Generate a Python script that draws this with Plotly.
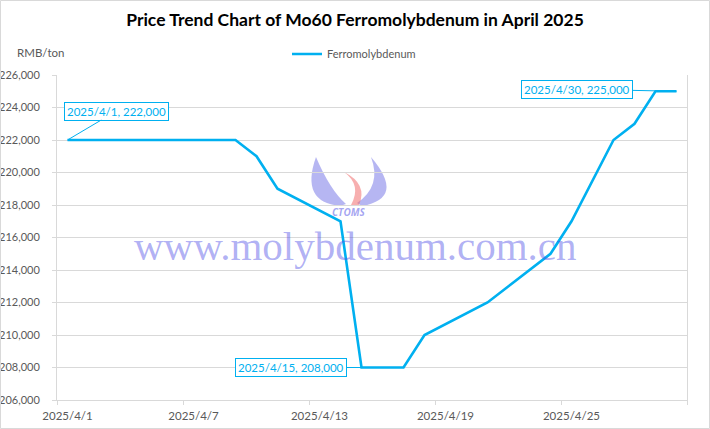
import pandas as pd
import plotly.graph_objects as go

# ---------------- data ----------------
dates = ["2025-04-01", "2025-04-02", "2025-04-03", "2025-04-07", "2025-04-08",
         "2025-04-09", "2025-04-10", "2025-04-11", "2025-04-14", "2025-04-15",
         "2025-04-16", "2025-04-17", "2025-04-18", "2025-04-21", "2025-04-22",
         "2025-04-23", "2025-04-24", "2025-04-25", "2025-04-27", "2025-04-28",
         "2025-04-29", "2025-04-30"]
prices = [222000, 222000, 222000, 222000, 222000,
          222000, 221000, 219000, 217000, 208000,
          208000, 208000, 210000, 212000, 213000,
          214000, 215000, 217000, 222000, 223000,
          225000, 225000]
tick_dates = ["2025-04-01", "2025-04-07", "2025-04-13", "2025-04-19", "2025-04-25"]
tick_labels = ["2025/4/1", "2025/4/7", "2025/4/13", "2025/4/19", "2025/4/25"]
series_name = "Ferromolybdenum"
labelled_points = ["2025-04-01", "2025-04-15", "2025-04-30"]

# ---------------- layout helpers ----------------
W, H = 710, 429
ML, MR, MT, MB = 57, 23, 75, 29
PW, PH = W - ML - MR, H - MT - MB


def px(x):
    return (x - ML) / PW


def py(y):
    return (H - MB - y) / PH


BLUE = "#00B0F0"
GREY = "#595959"
GRID = "#d9d9d9"
FONT = "Lato, 'Open Sans', sans-serif"

# Excel date axis: each day's point sits in the middle of its day slot
half_day = pd.Timedelta(hours=12)
x_vals = pd.to_datetime(dates) + half_day

fig = go.Figure()
fig.add_trace(go.Scatter(
    x=x_vals, y=prices, mode="lines", name=series_name,
    line=dict(color=BLUE, width=2.6),
))

# data-label callouts
offsets = {"2025-04-01": (49, -29), "2025-04-15": (-71, 0), "2025-04-30": (-100, -2)}
annotations = []
for d in labelled_points:
    i = dates.index(d)
    ts = pd.Timestamp(d)
    txt = f"{ts.year}/{ts.month}/{ts.day}, {prices[i]:,}"
    ax, ay = offsets[d]
    annotations.append(dict(
        x=x_vals[i], y=prices[i], xref="x", yref="y", text=txt,
        showarrow=True, arrowhead=0, arrowwidth=1, arrowcolor=BLUE,
        ax=ax, ay=ay, axref="pixel", ayref="pixel",
        font=dict(family=FONT, size=11.5, color=BLUE),
        bgcolor="white", bordercolor=BLUE, borderwidth=1, borderpad=2,
    ))

# unit label
annotations.append(dict(
    x=px(15), y=py(53), xref="paper", yref="paper", text="RMB/ton",
    showarrow=False, xanchor="left", yanchor="middle",
    font=dict(family=FONT, size=11.5, color=GREY),
))
# watermark text
annotations.append(dict(
    x=px(355), y=py(246), xref="paper", yref="paper",
    text="www.molybdenum.com.cn", showarrow=False,
    xanchor="center", yanchor="middle",
    font=dict(family="'Liberation Serif', 'Times New Roman', serif", size=41,
              color="rgba(80,80,230,0.45)"),
))
annotations.append(dict(
    x=px(349), y=py(212), xref="paper", yref="paper",
    text="<b><i>CTOMS</i></b>", showarrow=False,
    xanchor="center", yanchor="middle",
    font=dict(family="'Open Sans', sans-serif", size=10,
              color="rgba(90,90,230,0.55)"),
))


def path(points, closing=True):
    s = ""
    for cmd, pts in points:
        s += cmd + " " + " ".join(f"{px(a):.4f},{py(b):.4f}" for a, b in pts) + " "
    return s + ("Z" if closing else "")


shapes = []
# logo swooshes (decorative)
left_flame = path([("M", [(316, 157)]),
                   ("Q", [(300, 202), (340, 206)]),
                   ("L", [(346, 204)]),
                   ("Q", [(330, 190), (316, 157)])])
right_flame = path([("M", [(371, 157)]),
                    ("Q", [(406, 198), (362, 206)]),
                    ("L", [(357, 203)]),
                    ("Q", [(382, 186), (371, 157)])])
mid_flame = path([("M", [(344, 172)]),
                  ("Q", [(362, 185), (351, 205)]),
                  ("L", [(359, 205)]),
                  ("Q", [(368, 184), (344, 172)])])
for pth, col in [(left_flame, "rgba(110,110,230,0.5)"),
                 (right_flame, "rgba(110,110,230,0.5)"),
                 (mid_flame, "rgba(240,110,110,0.55)")]:
    shapes.append(dict(type="path", xref="paper", yref="paper", path=pth,
                       fillcolor=col, line=dict(width=0), layer="below"))

# outer chart border
shapes.append(dict(type="rect", xref="paper", yref="paper",
                   x0=px(0.5), x1=px(W - 0.5), y0=py(H - 0.5), y1=py(0.5),
                   line=dict(color=GRID, width=1), fillcolor="rgba(0,0,0,0)"))

fig.update_layout(
    width=W, height=H,
    margin=dict(l=ML, r=MR, t=MT, b=MB, pad=0, autoexpand=False),
    paper_bgcolor="white", plot_bgcolor="white",
    title=dict(text="<b>Price Trend Chart of Mo60 Ferromolybdenum in April 2025</b>",
               x=0.5, xref="container", xanchor="center",
               y=1 - 20 / H, yref="container", yanchor="middle",
               font=dict(family=FONT, size=17.5, color="#000000")),
    showlegend=True,
    legend=dict(orientation="h", x=px(287), y=py(54), xanchor="left", yanchor="middle",
                xref="paper", yref="paper", bgcolor="rgba(0,0,0,0)",
                font=dict(family=FONT, size=11, color=GREY),
                itemwidth=30, tracegroupgap=0),
    xaxis=dict(
        type="date", automargin=False,
        range=[pd.Timestamp(tick_dates[0]), pd.Timestamp(tick_dates[0]) + pd.Timedelta(days=30)],
        tickmode="array",
        tickvals=[pd.Timestamp(t) + half_day for t in tick_dates],
        ticktext=tick_labels,
        ticks="", showgrid=False, zeroline=False,
        showline=True, linecolor=GRID, linewidth=1,
        tickfont=dict(family=FONT, size=11.5, color=GREY),
        ticklabelstandoff=5,
        minor=dict(tick0=tick_dates[0], dtick=6 * 86400000, ticks="outside",
                   ticklen=4, tickcolor=GRID, tickwidth=1, showgrid=False),
    ),
    yaxis=dict(
        range=[206000, 226000], dtick=2000, tickformat=",", automargin=False,
        showgrid=True, gridcolor=GRID, gridwidth=1, zeroline=False,
        showline=True, linecolor=GRID, linewidth=1, mirror=True,
        ticks="outside", ticklen=4, tickcolor=GRID,
        tickfont=dict(family=FONT, size=11, color=GREY),
        ticklabelstandoff=10,
    ),
    annotations=annotations,
    shapes=shapes,
)

fig.write_html("out.html", config={"displayModeBar": False},
               post_script="document.body.style.margin='0';document.body.style.padding='0';")
